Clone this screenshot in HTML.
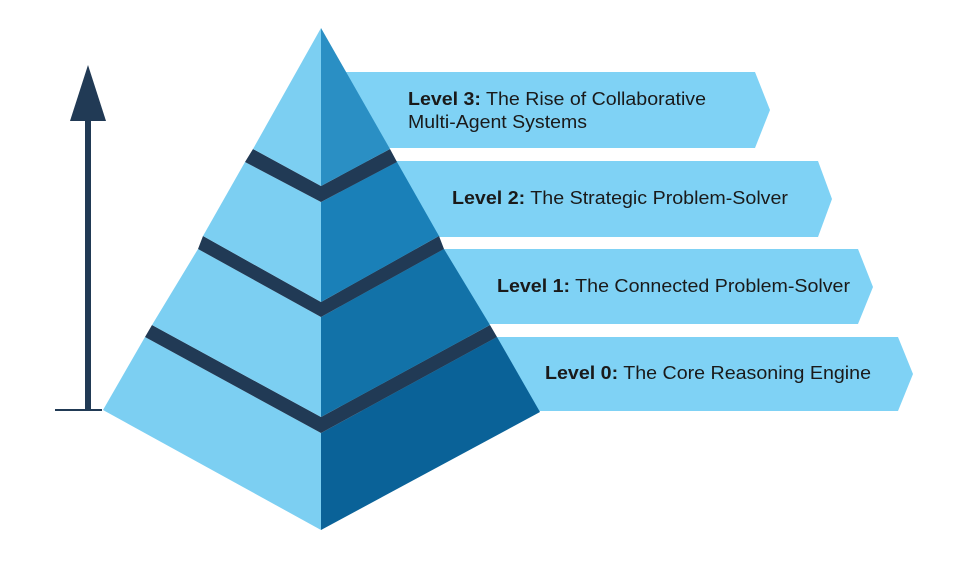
<!DOCTYPE html>
<html><head><style>
html,body{margin:0;padding:0;background:#fff;}
svg{display:block;}
text{font-family:"Liberation Sans",Arial,sans-serif;font-size:18.5px;fill:#1a1a1a;}
</style></head><body>
<svg width="975" height="561" viewBox="0 0 975 561" xmlns="http://www.w3.org/2000/svg">
<!-- banners -->
<polygon points="340,72 755,72 770,110 755,148 340,148" fill="#7fd2f5"/>
<polygon points="340,161 818,161 832,199 818,237 340,237" fill="#7fd2f5"/>
<polygon points="340,249 858,249 873,287 858,324 340,324" fill="#7fd2f5"/>
<polygon points="340,337 898,337 913,374 898,411 340,411" fill="#7fd2f5"/>
<!-- arrow -->
<line x1="55" y1="410" x2="102" y2="410" stroke="#213a55" stroke-width="2"/>
<rect x="85" y="115" width="6" height="296" fill="#213a55"/>
<polygon points="88,65 106,121 70,121" fill="#213a55"/>
<!-- tier 0 -->
<polygon points="145,337 321,433 321,530 103,410" fill="#7ccff2"/>
<polygon points="497,337 321,433 321,530 540,412" fill="#0a6298"/>
<polygon points="152,325 321,417 490,325 497,337 321,433 145,337" fill="#213a55"/>
<!-- tier 1 -->
<polygon points="198,249 321,317 321,417 152,325" fill="#7ccff2"/>
<polygon points="444,249 321,317 321,417 490,325" fill="#1272a8"/>
<polygon points="203,236 321,302 439,236 444,249 321,317 198,249" fill="#213a55"/>
<!-- tier 2 -->
<polygon points="245,162 321,202 321,302 203,236" fill="#7ccff2"/>
<polygon points="397,162 321,202 321,302 439,236" fill="#1a80b8"/>
<polygon points="253,149 321,186 390,149 397,162 321,202 245,162" fill="#213a55"/>
<!-- tier 3 -->
<polygon points="321,28 321,186 253,149" fill="#7ccff2"/>
<polygon points="321,28 321,186 390,149" fill="#2a8fc4"/>
<!-- labels -->
<text x="408" y="105" textLength="298" lengthAdjust="spacingAndGlyphs"><tspan font-weight="bold">Level 3:</tspan> The Rise of Collaborative</text>
<text x="408" y="128" textLength="179" lengthAdjust="spacingAndGlyphs">Multi-Agent Systems</text>
<text x="452" y="204" textLength="336" lengthAdjust="spacingAndGlyphs"><tspan font-weight="bold">Level 2:</tspan> The Strategic Problem-Solver</text>
<text x="497" y="292" textLength="353" lengthAdjust="spacingAndGlyphs"><tspan font-weight="bold">Level 1:</tspan> The Connected Problem-Solver</text>
<text x="545" y="379" textLength="326" lengthAdjust="spacingAndGlyphs"><tspan font-weight="bold">Level 0:</tspan> The Core Reasoning Engine</text>
</svg>
</body></html>
